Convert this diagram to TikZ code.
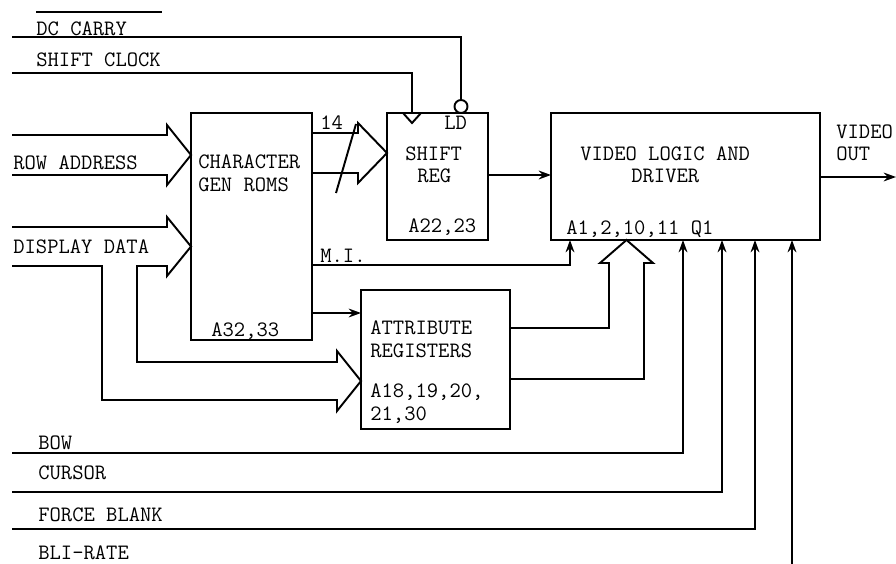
\documentclass[tikz,border=0pt]{standalone}
\usepackage{tikz}
\usetikzlibrary{calc}
\usetikzlibrary{arrows.meta}

\tikzset{
  blk/.style={draw, line width=1.1pt, inner sep=0pt, outer sep=0pt},
  wire/.style={line width=1.1pt},
  sig/.style={wire, -{Stealth[length=7pt,width=5pt]}},
  lbl/.style={font=\fontsize{12.5}{14}\selectfont\ttfamily, inner sep=0pt,
              text height=7.6pt, text depth=0pt, anchor=west},
}

\begin{document}
\begin{tikzpicture}[x=0.02cm, y=-0.02cm]
\useasboundingbox (0,0) rectangle (896,564);

% --- BLOCKS ---
\node[blk, minimum width=2.42cm, minimum height=4.54cm] (cg) at (251.5,226.5) {};
\node[blk, minimum width=2.02cm, minimum height=2.54cm] (sr) at (437.5,176.5) {};
\node[blk, minimum width=5.38cm, minimum height=2.54cm] (vl) at (685.5,176.5) {};
\node[blk, minimum width=2.98cm, minimum height=2.78cm] (ar) at (435.5,359.5) {};
\node[blk, circle, minimum size=0.26cm] (ldn) at (461,106.5) {};

% block texts
\node[lbl] (cgt1) at (198,162) {CHARACTER};
\node[lbl] (cgt2) at (198,185) {GEN ROMS};
\node[lbl] (cgt3) at (211,330) {A32,33};
\node[lbl] (srt1) at (405,154) {SHIFT};
\node[lbl] (srt2) at (417,176) {REG};
\node[lbl] (srt3) at (444,123) {LD};
\node[lbl] (srt4) at (408,226) {A22,23};
\node[lbl] (vlt1) at (580,154) {VIDEO LOGIC AND};
\node[lbl] (vlt2) at (631,176) {DRIVER};
\node[lbl] (vlt3) at (566,228) {A1,2,10,11 Q1};
\node[lbl] (art1) at (370,328) {ATTRIBUTE};
\node[lbl] (art2) at (370,351) {REGISTERS};
\node[lbl] (art3) at (370,391) {A18,19,20,};
\node[lbl] (art4) at (370,414) {21,30};

% --- SIGNAL LABELS ---
\node[lbl] (dclbl) at (36,29) {DC CARRY};
\node[lbl] (clklbl) at (36,60) {SHIFT CLOCK};
\node[lbl] (rowlbl) at (13,163) {ROW ADDRESS};
\node[lbl] (dsplbl) at (13,247) {DISPLAY DATA};
\node[lbl] (cntlbl) at (320,123) {14};
\node[lbl] (milbl) at (320,256) {M.I.};
\node[lbl] (outlbl1) at (836,132) {VIDEO};
\node[lbl] (outlbl2) at (836,154) {OUT};
\node[lbl] (bowlbl) at (38,443) {BOW};
\node[lbl] (curlbl) at (38,473) {CURSOR};
\node[lbl] (fbllbl) at (38,515) {FORCE BLANK};
\node[lbl] (blilbl) at (38,553) {BLI-RATE};

% free ends
\coordinate (dcin) at (12,37);
\coordinate (clkin) at (12,73);
\coordinate (bowin) at (12,453);
\coordinate (curin) at (12,492);
\coordinate (fblin) at (12,529);
\coordinate (bliin) at (792,564);
\coordinate (vout) at (896,177);
\coordinate (clk) at (412,113);

% --- TOP CONTROL LINES ---
\draw[wire] (36,12) -- (162,12);
\draw[wire] (dcin) -| (ldn.north);
\draw[wire] (clkin) -| (clk);
\draw[wire] (403,113) -- (412,123) -- (421,113);

% --- BUSES (hollow arrows) ---
\draw[wire] (12,135) -- (167,135) -- (167,125) -- (cg.west |- 0,155)
            -- (167,185) -- (167,175) -- (12,175);
\draw[wire] (12,266) -- (102,266) -- (102,400) -- (337,400) -- (337,411)
            -- (ar.west |- 0,381) -- (337,351) -- (337,362) -- (137,362)
            -- (137,266) -- (167,266) -- (167,276) -- (cg.west |- 0,246.5)
            -- (167,217) -- (167,227) -- (12,227);
\draw[wire] (cg.east |- 0,133) -- (358,133) -- (358,123) -- (sr.west |- 0,153)
            -- (358,183) -- (358,173) -- (cg.east |- 0,173);
\draw[wire] (336,193) -- (356,124);
\draw[wire] (ar.east |- 0,328) -| (609,263) -- (600,263) -- (vl.south -| 626.5,0)
            -- (653,263) -- (644,263) |- (ar.east |- 0,379);

% --- POINT SIGNALS ---
\draw[sig] (sr.east |- 0,175) -- (vl.west |- 0,175);
\draw[sig] (vl.east |- vout) -- (vout);
\draw[sig] (cg.east |- 0,313) -- (ar.west |- 0,313);
\draw[sig] (cg.east |- 0,265) -| (vl.south -| 570,0);
\draw[sig] (bowin) -| (vl.south -| 683,0);
\draw[sig] (curin) -| (vl.south -| 722,0);
\draw[sig] (fblin) -| (vl.south -| 755,0);
\draw[sig] (bliin) -- (vl.south -| bliin);

\end{tikzpicture}
\end{document}
